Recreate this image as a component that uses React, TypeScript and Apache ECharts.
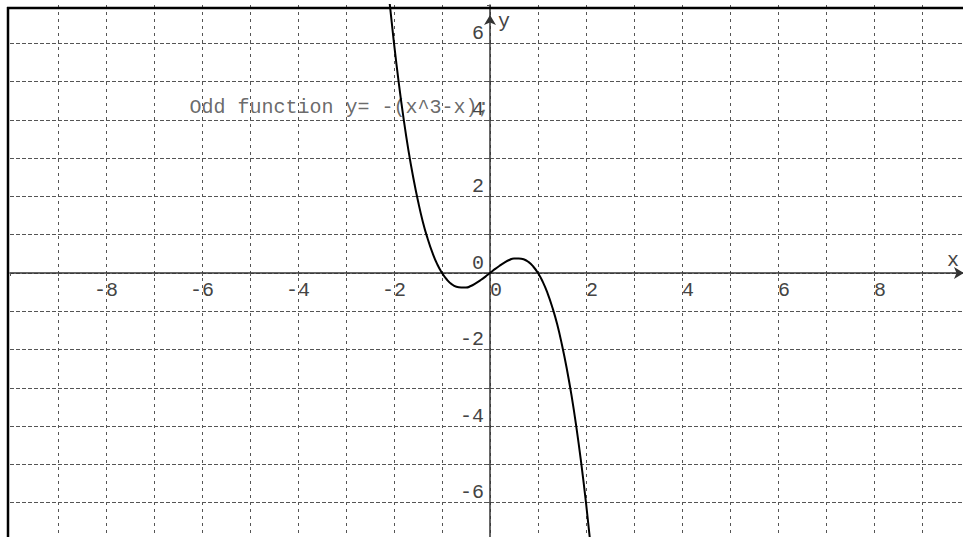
import React, { useEffect, useRef } from "react";
import * as echarts from "echarts";

// Sampled points of the odd function y = -(x^3 - x)
const curveX = [
  -2.1, -2.0, -1.9, -1.8, -1.7, -1.6, -1.5, -1.4, -1.3, -1.2, -1.1, -1.0,
  -0.9, -0.8, -0.7, -0.6, -0.5, -0.4, -0.3, -0.2, -0.1, 0,
  0.1, 0.2, 0.3, 0.4, 0.5, 0.6, 0.7, 0.8, 0.9, 1.0,
  1.1, 1.2, 1.3, 1.4, 1.5, 1.6, 1.7, 1.8, 1.9, 2.0, 2.1,
];
const curveY = [
  7.16, 6.0, 4.96, 4.03, 3.21, 2.5, 1.88, 1.34, 0.9, 0.53, 0.23, 0,
  -0.17, -0.29, -0.36, -0.38, -0.38, -0.34, -0.27, -0.19, -0.1, 0,
  0.1, 0.19, 0.27, 0.34, 0.38, 0.38, 0.36, 0.29, 0.17, 0,
  -0.23, -0.53, -0.9, -1.34, -1.88, -2.5, -3.21, -4.03, -4.96, -6.0, -7.16,
];

// Axis ranges and labelled ticks
const xRange = [-10, 10];
const yRange = [-7, 7];
const xTickLabels = [-8, -6, -4, -2, 0, 2, 4, 6, 8];
const yTickLabels = [-6, -4, -2, 0, 2, 4, 6];

// Caption and its anchor in data coordinates
const caption = "Odd function y= -(x^3-x);";
const captionAt = [-6.25, 4.3];

const MONO = "'Courier New', 'Liberation Mono', monospace";
const FONT_SIZE = 20;
const TEXT_COLOR = "#444";

// Plot box in pixels
const GRID_LEFT = 10;
const GRID_TOP = 5;
const GRID_W = 960;
const GRID_H = 536;

export default function App() {
  const ref = useRef<HTMLDivElement>(null);

  useEffect(() => {
    document.body.style.margin = "0";
    if (!ref.current) return;
    const chart = echarts.init(ref.current, null, { renderer: "svg" });

    // Axes cross at the origin: shift each axis from the grid edge to zero
    const zeroY = GRID_TOP + (GRID_H * yRange[1]) / (yRange[1] - yRange[0]);
    const zeroX = GRID_LEFT + (GRID_W * -xRange[0]) / (xRange[1] - xRange[0]);
    const xOffset = zeroY - (GRID_TOP + GRID_H);
    const yOffset = GRID_LEFT - zeroX;

    const gridStyle = { color: "#555", width: 1 };
    const textStyle = { fontFamily: MONO, fontSize: FONT_SIZE, color: TEXT_COLOR };

    chart.setOption({
      animation: false,
      backgroundColor: "#fff",
      grid: {
        left: GRID_LEFT,
        top: GRID_TOP,
        width: GRID_W,
        height: GRID_H,
        containLabel: false,
        outerBoundsMode: "none",
      },
      xAxis: {
        type: "value",
        position: "bottom",
        offset: xOffset,
        min: xRange[0],
        max: xRange[1],
        interval: 1,
        name: "x",
        nameLocation: "end",
        nameGap: -17,
        nameTextStyle: {
          ...textStyle,
          align: "center",
          verticalAlign: "bottom",
          padding: [0, 0, 3, 0],
        },
        axisLine: {
          onZero: false,
          lineStyle: { color: "#333", width: 1.5 },
          symbol: ["none", "arrow"],
          symbolSize: [9, 10],
          symbolOffset: [0, -6],
        },
        axisTick: { show: true, length: 3, lineStyle: { color: "#555" } },
        axisLabel: {
          ...textStyle,
          margin: 7,
          align: "right",
          padding: [0, -12, 0, 0],
          formatter: (v: number) => (xTickLabels.includes(v) ? String(v) : ""),
        },
        splitLine: {
          show: true,
          showMinLine: false,
          showMaxLine: false,
          lineStyle: { ...gridStyle, type: [3, 4] },
        },
      },
      yAxis: {
        type: "value",
        position: "left",
        offset: yOffset,
        min: yRange[0],
        max: yRange[1],
        interval: 1,
        name: "y",
        nameLocation: "end",
        nameGap: -16,
        nameTextStyle: {
          ...textStyle,
          align: "left",
          verticalAlign: "middle",
          padding: [0, 0, 0, 8],
        },
        axisLine: {
          onZero: false,
          lineStyle: { color: "#333", width: 1.5 },
          symbol: ["none", "arrow"],
          symbolSize: [9, 10],
          symbolOffset: [0, -10],
        },
        axisTick: { show: true, length: 3, lineStyle: { color: "#555" } },
        axisLabel: {
          ...textStyle,
          margin: 6,
          verticalAlign: "bottom",
          formatter: (v: number) => (yTickLabels.includes(v) ? String(v) : ""),
        },
        splitLine: {
          show: true,
          showMinLine: false,
          showMaxLine: false,
          lineStyle: { ...gridStyle, type: [4, 2] },
        },
      },
      series: [
        {
          type: "scatter",
          data: [captionAt],
          symbolSize: 1,
          itemStyle: { color: "transparent" },
          silent: true,
          z: 1,
          label: {
            show: true,
            formatter: caption,
            position: [0, 0],
            align: "left",
            verticalAlign: "middle",
            ...textStyle,
          },
        },
        {
          type: "line",
          data: curveX.map((x, i) => [x, curveY[i]]),
          smooth: true,
          symbol: "none",
          clip: true,
          z: 3,
          lineStyle: { color: "#000", width: 2 },
        },
      ],
      graphic: [
        {
          type: "line",
          shape: { x1: 7, y1: 8, x2: 963, y2: 8 },
          style: { stroke: "#000", lineWidth: 2.5 },
          z: 10,
        },
        {
          type: "line",
          shape: { x1: 8, y1: 7, x2: 8, y2: 537 },
          style: { stroke: "#000", lineWidth: 2.5 },
          z: 10,
        },
      ],
    });

    return () => chart.dispose();
  }, []);

  return <div ref={ref} style={{ width: 963, height: 537 }} />;
}
